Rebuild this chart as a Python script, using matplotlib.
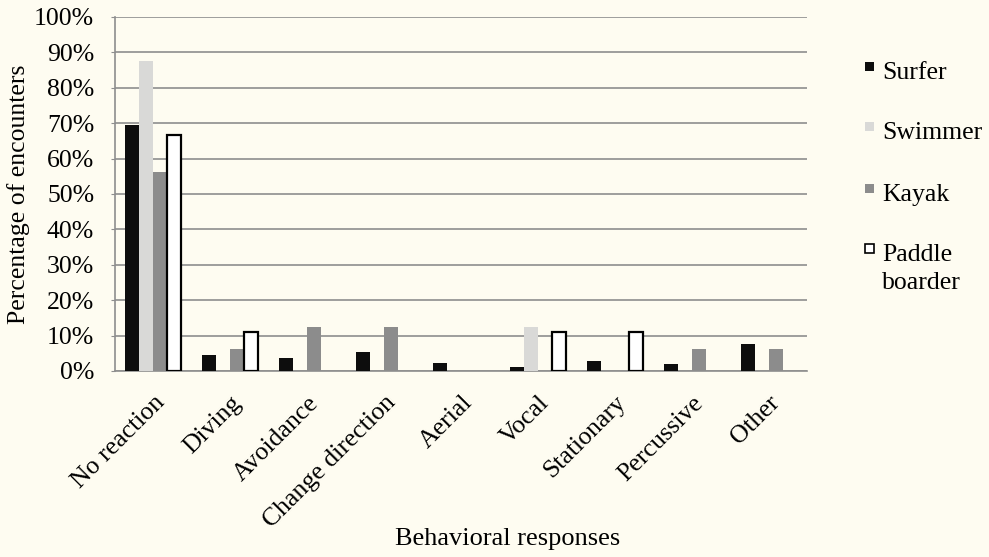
import numpy as np
import matplotlib
matplotlib.use("Agg")
import matplotlib.pyplot as plt
from matplotlib.patches import Rectangle

# %% data
categories = ["No reaction", "Diving", "Avoidance", "Change direction", "Aerial",
              "Vocal", "Stationary", "Percussive", "Other"]
series = ["Surfer", "Swimmer", "Kayak", "Paddle\nboarder"]
surfer = [69.5, 4.5, 3.6, 5.3, 2.2, 1.2, 2.9, 2.0, 7.6]
swimmer = [87.5, 0, 0, 0, 0, 12.5, 0, 0, 0]
kayak = [56.25, 6.25, 12.5, 12.5, 0, 0, 0, 6.25, 6.25]
paddle = [66.7, 11.1, 0, 0, 0, 11.1, 11.1, 0, 0]
yticks = [0, 10, 20, 30, 40, 50, 60, 70, 80, 90, 100]

# %% style
bg = "#fefcf1"
grid_c = "#8e8e8e"
face = ["#0d0d0d", "#d9d9d7", "#8c8c8c", "#ffffff"]
edge = ["#0d0d0d", "#d9d9d7", "#8c8c8c", "#000000"]
plt.rcParams["font.family"] = ["Liberation Serif", "DejaVu Serif"]
fs = 18.5

fig = plt.figure(figsize=(9.89, 5.57), dpi=100, facecolor=bg)
ax = fig.add_axes([0.1163, 0.334, 0.6997, 0.6355])
ax.set_facecolor(bg)

x = np.arange(len(categories))
w = 0.182
for i, vals in enumerate([surfer, swimmer, kayak, paddle]):
    v = np.array(vals, dtype=float)
    v[v == 0] = np.nan  # empty cells draw nothing
    lw = 1.6 if i == 3 else 0
    ax.bar(x + (i - 1.5) * w, v, width=w, color=face[i], edgecolor=edge[i],
           linewidth=lw, zorder=3)

ax.set_xlim(-0.5, len(categories) - 0.5)
ax.set_ylim(0, 100)
ax.set_yticks(yticks)
ax.set_yticklabels([f"{t}%" for t in yticks], fontsize=fs)
ax.yaxis.grid(True, color=grid_c, linewidth=1.2, zorder=0)
ax.set_axisbelow(True)
for s in ["top", "right"]:
    ax.spines[s].set_visible(False)
for s in ["left", "bottom"]:
    ax.spines[s].set_color(grid_c)
    ax.spines[s].set_linewidth(1.2)
ax.tick_params(axis="y", length=3, color=grid_c, pad=12)
ax.tick_params(axis="x", length=0, pad=15)
ax.set_xticks(x)
ax.set_xticklabels(categories, rotation=45, ha="right", va="top",
                   rotation_mode="anchor", fontsize=fs)
fig.text(19 / 989, 1 - 194 / 557, "Percentage of encounters", rotation=90,
         ha="center", va="center", fontsize=18.5)
fig.text(0.513, 0.012, "Behavioral responses", ha="center", va="bottom", fontsize=19)

# legend drawn by hand to keep the uneven spacing
leg_y = [73, 133, 195, 255]
for i, name in enumerate(series):
    y0 = leg_y[i]
    fig.patches.append(Rectangle((865 / 989, 1 - (y0 - 2) / 557), 9 / 989, 9 / 557,
                                 transform=fig.transFigure, facecolor=face[i],
                                 edgecolor=edge[i], linewidth=1.2 if i == 3 else 0))
    fig.text(882 / 989, 1 - (y0 - 11) / 557, name, ha="left", va="top",
             fontsize=fs, linespacing=1.35)

fig.savefig("out.png", dpi=100, facecolor=bg)
